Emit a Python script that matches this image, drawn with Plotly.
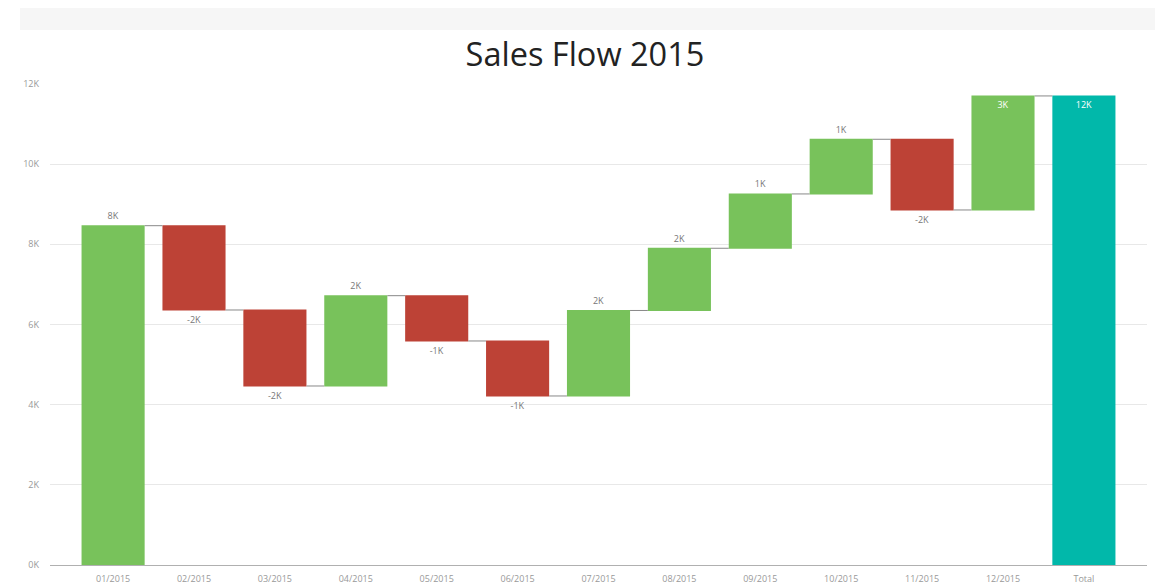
import plotly.graph_objects as go

categories = ["01/2015", "02/2015", "03/2015", "04/2015", "05/2015", "06/2015",
              "07/2015", "08/2015", "09/2015", "10/2015", "11/2015", "12/2015", "Total"]
changes = [8465, -2103, -1896, 2253, -1130, -1372, 2133, 1552, 1355, 1364, -1764, 2845]
y_tick_vals = [0, 2000, 4000, 6000, 8000, 10000, 12000]
y_tick_text = ["0K", "2K", "4K", "6K", "8K", "10K", "12K"]

total_value = sum(changes)
values = changes + [0]
measures = ["relative"] * len(changes) + ["total"]
labels = [f"{round(v / 1000):.0f}K" for v in changes] + [f"{round(total_value / 1000):.0f}K"]

n = len(categories)
text_pos = ["outside"] * n
text_col = ["#777777"] * n
for i in (n - 2, n - 1):
    text_pos[i] = "inside"
    text_col[i] = "#ffffff"

fig = go.Figure(go.Waterfall(
    x=categories,
    y=values,
    measure=measures,
    text=labels,
    textposition=text_pos,
    insidetextanchor="end",
    textfont=dict(size=9, color=text_col, family="Open Sans"),
    increasing=dict(marker=dict(color="#78C25B")),
    decreasing=dict(marker=dict(color="#BD4236")),
    totals=dict(marker=dict(color="#01B8AA")),
    connector=dict(line=dict(color="#888888", width=1)),
    width=0.78,
    cliponaxis=False,
    hoverinfo="x+y",
))

# page body has an 8px margin, so the figure is offset by 8px
OFF = 8
W, H = 1164 - OFF, 587 - OFF
L, R, T, B = 50 - OFF, 17, 84 - OFF, 22
pw, ph = W - L - R, H - T - B

def px_x(x):
    return (x - OFF - L) / pw

def px_y(y):
    return (H - B - (y - OFF)) / ph

fig.add_shape(type="rect", xref="paper", yref="paper",
              x0=px_x(20), x1=px_x(1155), y0=px_y(30), y1=px_y(OFF),
              fillcolor="#f6f6f6", line=dict(width=0), layer="below")

fig.update_layout(
    width=W, height=H,
    margin=dict(l=L, r=R, t=T, b=B),
    paper_bgcolor="white",
    plot_bgcolor="white",
    showlegend=False,
    title=dict(text="Sales Flow 2015", x=(585 - OFF) / W, xanchor="center", xref="container",
               y=1 - (55 - OFF) / H, yanchor="middle", yref="container",
               font=dict(size=32.5, color="#222222", family="Open Sans")),
    xaxis=dict(
        type="category",
        range=[-0.78, n - 1 + 0.78],
        showgrid=False,
        showline=True, linecolor="#b0b0b0", linewidth=1,
        ticks="", tickfont=dict(size=9, color="#999999", family="Open Sans"),
        ticklabelstandoff=5,
        automargin=False,
        fixedrange=True,
    ),
    yaxis=dict(
        range=[0, 12000],
        tickvals=y_tick_vals, ticktext=y_tick_text,
        showgrid=True, gridcolor="#e8e8e8", gridwidth=1,
        zeroline=False,
        ticks="", tickfont=dict(size=9, color="#999999", family="Open Sans"),
        ticklabelstandoff=10,
        automargin=False,
        fixedrange=True,
    ),
)

fig.write_html("out.html")
